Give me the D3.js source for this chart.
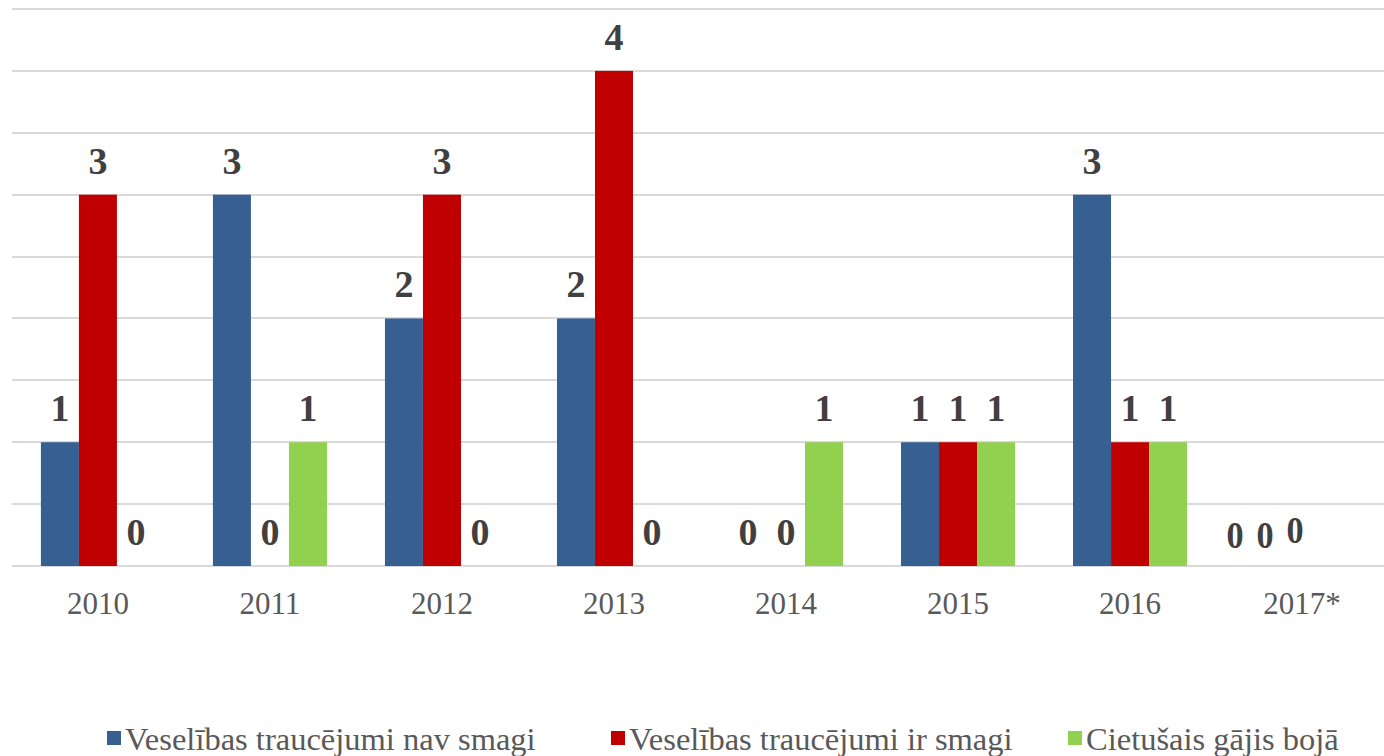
<!DOCTYPE html>
<meta charset="utf-8">
<head>
<script src="https://d3js.org/d3.v7.min.js"></script>
<style>
  body { margin: 0; background: #fff; font-family: "Liberation Serif", "Times New Roman", serif; }
</style>
</head>
<body>
<svg></svg>
<script>
  // data
  var years = ["2010", "2011", "2012", "2013", "2014", "2015", "2016", "2017*"];
  var seriesNames = ["Veselības traucējumi nav smagi", "Veselības traucējumi ir smagi", "Cietušais gājis bojā"];
  var notSevere = [1, 3, 2, 2, 0, 1, 3, 0];
  var severe    = [3, 0, 3, 4, 0, 1, 1, 0];
  var died      = [0, 1, 0, 0, 1, 1, 1, 0];
  var colors = ["#376092", "#C00000", "#92D050"];

  var width = 1384, height = 756;

  var svg = d3.select("svg").attr("width", width).attr("height", height);

  var x = d3.scaleBand().domain(years).range([12, 1388]).paddingInner(0.337).paddingOuter(0.168);
  var xs = d3.scaleBand().domain([0, 1, 2]).range([0, x.bandwidth()]);
  var y = d3.scaleLinear().domain([0, 4.5]).range([566, 9]);

  var values = [notSevere, severe, died];

  // labels in the last group get pushed together by the chart program
  function nudge(i, s) {
    if (years[i] !== "2017*") return [0, 0];
    return [[-29, 3], [-37, 3], [-45, -2]][s];
  }

  // gridlines
  svg.append("g")
    .selectAll("line")
    .data(d3.range(0, 4.51, 0.5))
    .enter().append("line")
    .attr("x1", 12).attr("x2", width)
    .attr("y1", function(d) { return Math.round(y(d)); })
    .attr("y2", function(d) { return Math.round(y(d)); })
    .attr("stroke", "#D9D9D9").attr("stroke-width", 2);

  var groups = svg.append("g").selectAll("g")
    .data(years)
    .enter().append("g")
    .attr("transform", function(d) { return "translate(" + x(d) + ",0)"; });

  function rows(d, i) { return values.map(function(v, s) { return {s: s, v: v[i], i: i}; }); }

  groups.selectAll("rect")
    .data(rows)
    .enter().append("rect")
    .attr("x", function(d) { return xs(d.s); })
    .attr("width", xs.bandwidth())
    .attr("y", function(d) { return y(d.v); })
    .attr("height", function(d) { return y(0) - y(d.v); })
    .attr("fill", function(d) { return colors[d.s]; });

  groups.selectAll("text")
    .data(rows)
    .enter().append("text")
    .attr("x", function(d) { return xs(d.s) + xs.bandwidth() / 2 + nudge(d.i, d.s)[0]; })
    .attr("y", function(d) { return y(d.v) - 21 + nudge(d.i, d.s)[1]; })
    .attr("text-anchor", "middle")
    .attr("font-size", 38)
    .attr("font-weight", "bold")
    .attr("fill", "#404040")
    .attr("transform", function(d) {
      if (years[d.i] !== "2017*") return null;
      var cx = xs(d.s) + xs.bandwidth() / 2 + nudge(d.i, d.s)[0];
      return "translate(" + cx + ",0) scale(0.9,1) translate(" + (-cx) + ",0)";
    })
    .text(function(d) { return d.v; });

  // x axis labels
  svg.append("g").selectAll("text")
    .data(years)
    .enter().append("text")
    .attr("x", function(d) { return x(d) + x.bandwidth() / 2; })
    .attr("y", 614)
    .attr("text-anchor", "middle")
    .attr("font-size", 31)
    .attr("fill", "#595959")
    .text(function(d) { return d; });

  // legend
  var legendX = [107, 611, 1068];
  var legend = svg.append("g").selectAll("g")
    .data(seriesNames)
    .enter().append("g")
    .attr("transform", function(d, i) { return "translate(" + legendX[i] + ",731)"; });

  legend.append("rect")
    .attr("width", 14).attr("height", 14)
    .attr("fill", function(d, i) { return colors[i]; });

  legend.append("text")
    .attr("x", 18).attr("y", 19)
    .attr("font-size", 32.5)
    .attr("fill", "#595959")
    .text(function(d) { return d; });
</script>
</body>
